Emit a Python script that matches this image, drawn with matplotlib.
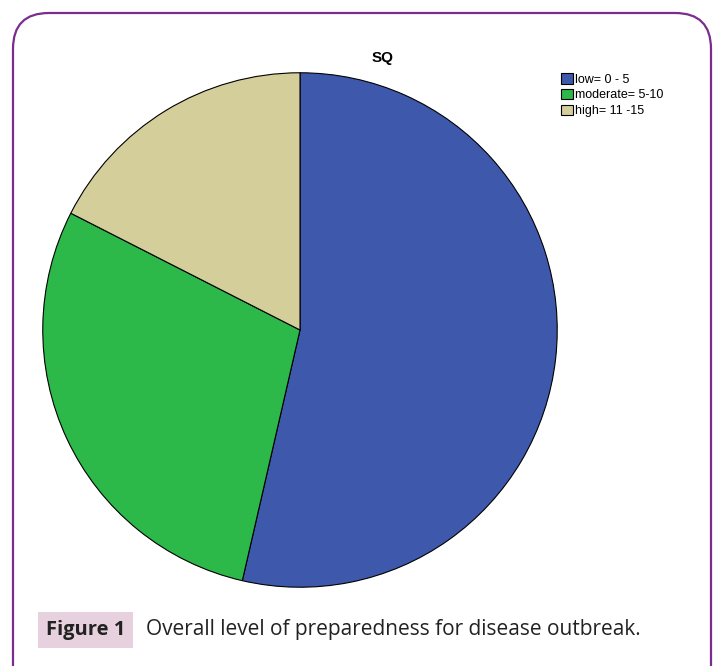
import matplotlib.pyplot as plt
from matplotlib.patches import FancyBboxPatch

# data (percent shares)
labels = ['low= 0 - 5', 'moderate= 5-10', 'high= 11 -15']
shares = [53.6, 28.9, 17.5]
colors = ['#3E58AC', '#2DB84A', '#D4CF9A']
title = 'SQ'
caption_tag = 'Figure 1'
caption = 'Overall level of preparedness for disease outbreak.'

W, H = 717, 666
fig = plt.figure(figsize=(W / 100, H / 100), dpi=100)

# rounded purple frame (open at the bottom)
frame = FancyBboxPatch((13 / W, -40 / H), 698 / W, (H - 13 + 40) / H,
                       boxstyle='round,pad=0,rounding_size=0.05',
                       transform=fig.transFigure, facecolor='white',
                       edgecolor='#7B2D8E', linewidth=1.6, mutation_aspect=W / H,
                       zorder=-5)
fig.patches.append(frame)

# pie
cx, cy, r = 300, 330, 258
ax = fig.add_axes([(cx - r) / W, (H - cy - r) / H, 2 * r / W, 2 * r / H])
ax.patch.set_visible(False)
wedges, _ = ax.pie(shares, colors=colors, startangle=90, counterclock=False,
                   radius=1, wedgeprops=dict(edgecolor='black', linewidth=0.8))
ax.set_xlim(-1.003, 1.003)
ax.set_ylim(-1.003, 1.003)
ax.set_aspect('equal')
ax.axis('off')

fig.text(383 / W, 1 - 58 / H, title, ha='center', va='center',
         fontsize=11, fontweight='bold', family='Liberation Sans')

leg = fig.legend(wedges, labels, loc='upper left',
                 bbox_to_anchor=(555 / W, 1 - 67 / H), frameon=False,
                 prop=dict(family='Liberation Sans', size=9),
                 handlelength=0.9, handleheight=0.9, handletextpad=0.2,
                 labelspacing=0.25, borderpad=0)
for h in leg.legend_handles:
    h.set_linewidth(0.8)

# caption
fig.text(46 / W, 1 - 630 / H, caption_tag, ha='left', va='center',
         fontsize=14.5, fontweight='bold', family='Open Sans', color='#222222',
         bbox=dict(boxstyle='square,pad=0.38', facecolor='#E8D1DE', edgecolor='none'))
fig.text(146 / W, 1 - 630 / H, caption, ha='left', va='center',
         fontsize=15, family='Open Sans', color='#222222')

fig.savefig('out.png', dpi=100)
